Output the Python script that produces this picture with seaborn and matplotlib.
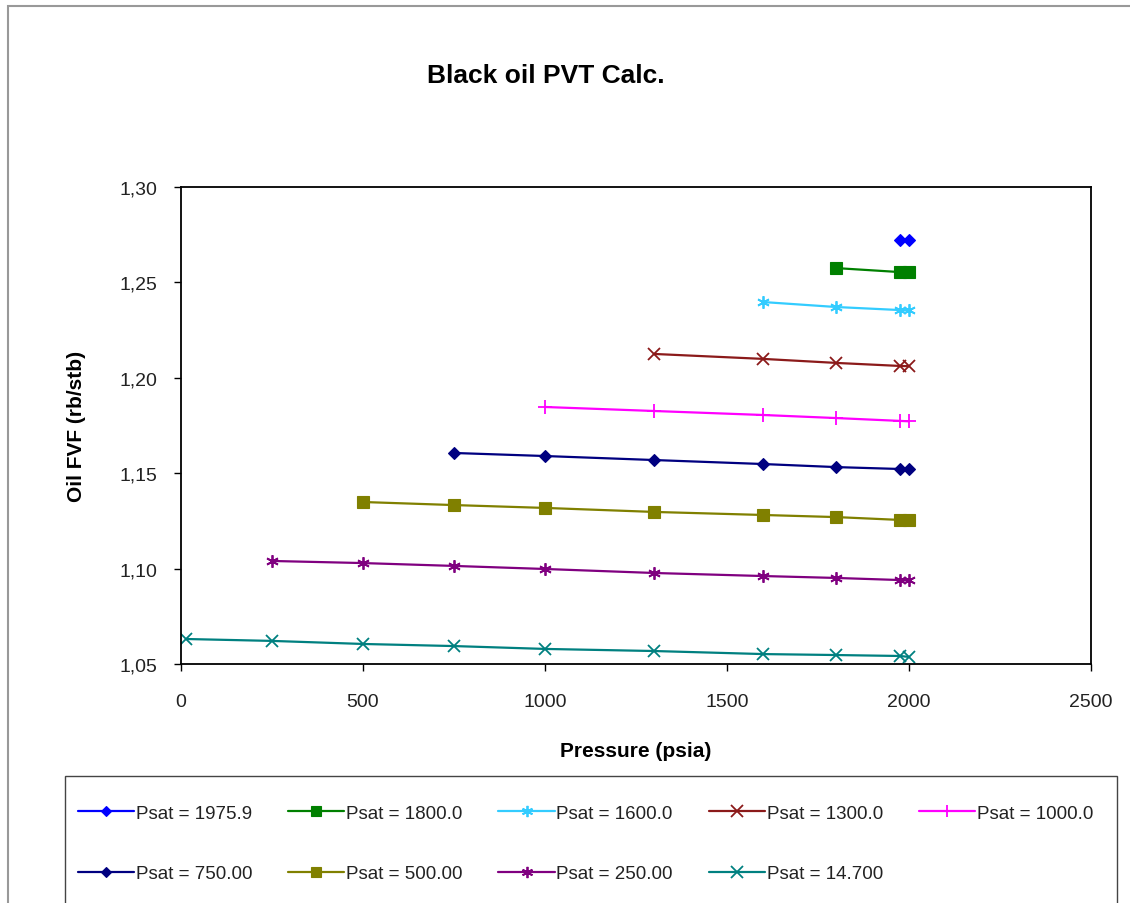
import seaborn as sns
import matplotlib.pyplot as plt
import pandas as pd
from matplotlib.patches import Rectangle
from matplotlib.ticker import FuncFormatter

# pressure steps used in the table (psia)
pressure = [14.7, 250, 500, 750, 1000, 1300, 1600, 1800, 1975.9, 2000]

# oil FVF for each saturation pressure, from Psat up to 2000 psia
psat_labels = ['Psat = 1975.9', 'Psat = 1800.0', 'Psat = 1600.0', 'Psat = 1300.0',
               'Psat = 1000.0', 'Psat = 750.00', 'Psat = 500.00', 'Psat = 250.00',
               'Psat = 14.700']
bo_1975 = [1.2722, 1.2721]
bo_1800 = [1.2575, 1.2554, 1.2553]
bo_1600 = [1.2397, 1.2371, 1.2355, 1.2354]
bo_1300 = [1.2125, 1.2099, 1.2078, 1.2062, 1.2061]
bo_1000 = [1.1847, 1.1826, 1.1805, 1.1789, 1.1774, 1.1772]
bo_750 = [1.1606, 1.1590, 1.1569, 1.1548, 1.1532, 1.1522, 1.1521]
bo_500 = [1.1349, 1.1333, 1.1318, 1.1297, 1.1281, 1.1270, 1.1255, 1.1254]
bo_250 = [1.1040, 1.1029, 1.1014, 1.0998, 1.0977, 1.0961, 1.0951, 1.0940, 1.0939]
bo_14 = [1.0631, 1.0621, 1.0605, 1.0594, 1.0579, 1.0568, 1.0552, 1.0547, 1.0542, 1.0537]
all_bo = [bo_1975, bo_1800, bo_1600, bo_1300, bo_1000, bo_750, bo_500, bo_250, bo_14]

colors = ['#0000FF', '#008000', '#33CCFF', '#8B1A1A', '#FF00FF',
          '#000080', '#808000', '#800080', '#008080']
markers = ['D', 's', (6, 2, 0), 'x', '+', 'D', 's', (6, 2, 0), 'x']
msizes = [6, 8, 9, 9, 10, 6, 8, 9, 9]

rows = []
for lab, bo in zip(psat_labels, all_bo):
    for p, b in zip(pressure[-len(bo):], bo):
        rows.append({'Pressure': p, 'Bo': b, 'Psat': lab})
df = pd.DataFrame(rows)

sns.set_style('white')
plt.rcParams['font.family'] = ['Liberation Sans', 'DejaVu Sans']
plt.rcParams['text.color'] = 'black'
plt.rcParams['axes.labelcolor'] = 'black'

fig = plt.figure(figsize=(11.3, 9.04), dpi=100)
ax = fig.add_axes([181/1130, 1-665/904, (1091-181)/1130, (665-188)/904])

sns.lineplot(data=df, x='Pressure', y='Bo', hue='Psat', style='Psat',
             hue_order=psat_labels, style_order=psat_labels,
             palette=dict(zip(psat_labels, colors)),
             markers=dict.fromkeys(psat_labels, 'o'), dashes=False,
             linewidth=1.6, ax=ax)

# excel-like markers (set after seaborn, it refuses mixing filled and line-art)
def fix_line(line, i, scale=1.0):
    c = colors[i]
    line.set_color(c)
    line.set_marker(markers[i])
    line.set_markeredgecolor(c)
    line.set_markerfacecolor(c)
    line.set_markersize(msizes[i] * scale)
    if markers[i] in ('D', 's'):
        line.set_markeredgewidth(0.8)
    else:
        line.set_markeredgewidth(1.3)

for i, line in enumerate(ax.lines[:len(psat_labels)]):
    fix_line(line, i)

handles, labels = ax.get_legend_handles_labels()
ax.get_legend().remove()
for i, h in enumerate(handles):
    fix_line(h, i, 0.9)

ax.set_xlim(0, 2500)
ax.set_ylim(1.05, 1.30)
ax.set_xticks([0, 500, 1000, 1500, 2000, 2500])
ax.set_yticks([1.05, 1.10, 1.15, 1.20, 1.25, 1.30])
ax.yaxis.set_major_formatter(FuncFormatter(lambda v, pos: f'{v:.2f}'.replace('.', ',')))
ax.tick_params(axis='both', direction='out', length=5, width=1, labelsize=14,
               bottom=True, left=True, colors='black', labelcolor='#222222')
ax.tick_params(axis='x', pad=16)
ax.tick_params(axis='y', pad=12)
for s in ax.spines.values():
    s.set_color('black')
    s.set_linewidth(1.3)

ax.set_xlabel('Pressure (psia)', fontsize=15, fontweight='bold', labelpad=22)
ax.set_ylabel('Oil FVF (rb/stb)', fontsize=15, fontweight='bold', labelpad=24)
fig.text(546/1130, 1-76/904, 'Black oil PVT Calc.', fontsize=19,
         fontweight='bold', ha='center', va='center')

# legend: row-major order in 5 columns
order = [0, 5, 1, 6, 2, 7, 3, 8, 4]
fig.legend([handles[i] for i in order], [labels[i] for i in order],
           loc='upper left', bbox_to_anchor=(61/1130, 1-789/904), ncol=5,
           frameon=False, fontsize=13.5, handlelength=3.0, handletextpad=0.1,
           columnspacing=1.9, labelspacing=2.3, labelcolor='#222222')
fig.patches.append(Rectangle((65/1130, -0.02), (1117-65)/1130, (904-777)/904+0.02,
                             transform=fig.transFigure, fill=False,
                             edgecolor='#444444', linewidth=1.0))
# outer chart border
fig.patches.append(Rectangle((8/1130, -0.02), 1.05, 1-7/904+0.02,
                             transform=fig.transFigure, fill=False,
                             edgecolor='#999999', linewidth=1.5))

fig.savefig('out.png', dpi=100)
